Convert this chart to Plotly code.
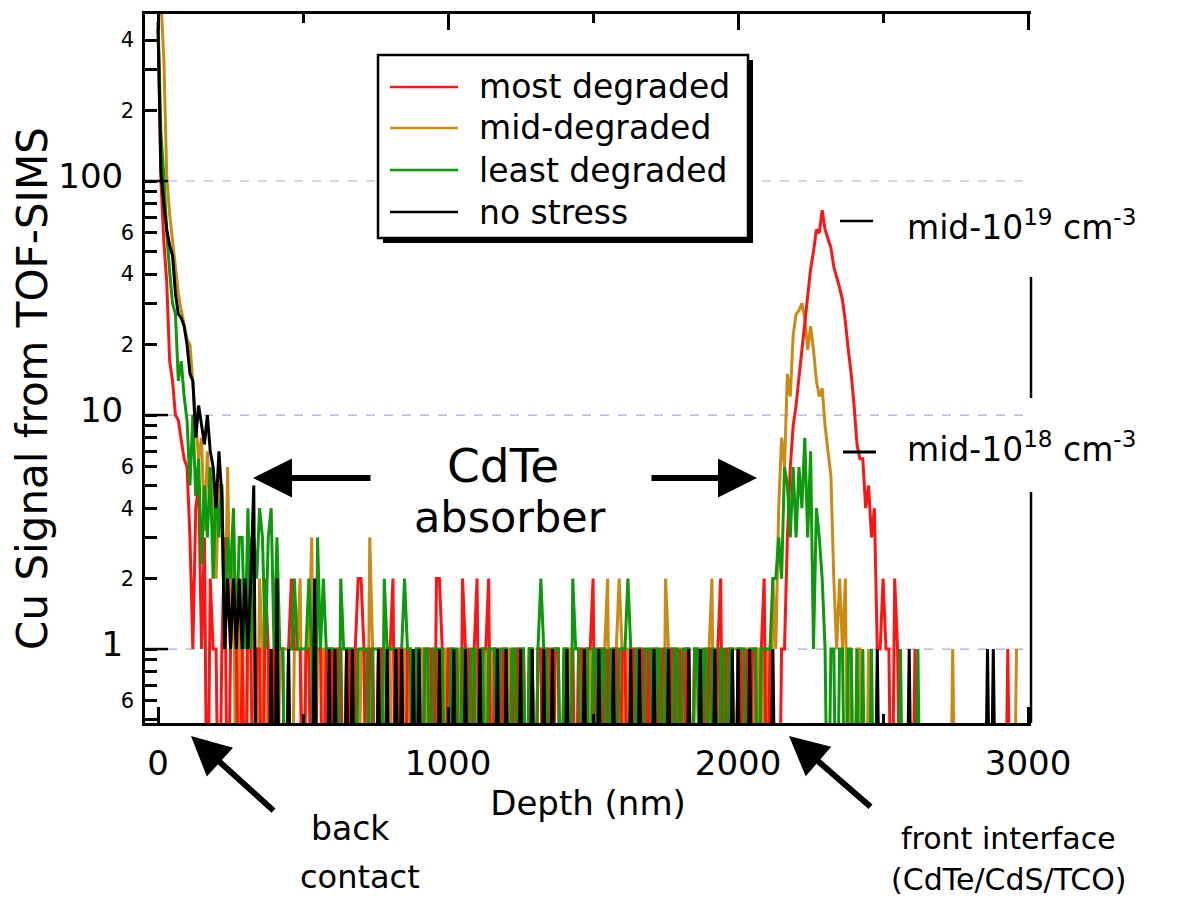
import plotly.graph_objects as go

# ---------------- data (Cu counts, one value every 10 nm of depth) ----------------
STEP_NM = 10

most_degraded = [
    480, 100, 55, 37, 17, 14, 10, 9.5, 7.8, 6.5,
    6, 3, 1, 4, 5, 1, 3, 0, 2, 1,
    1, 0, 1, 3, 0, 1, 2, 1, 0, 1,
    0, 2, 1, 0, 1, 1, 0, 2, 1, 0,
    1, 1, 1, 1, 0, 1, 2, 1, 1, 1,
    0, 1, 1, 0, 1, 1, 1, 0, 1, 1,
    1, 0, 1, 1, 0, 1, 1, 0, 1, 2,
    2, 1, 0, 1, 1, 0, 1, 1, 0, 1,
    1, 2, 0, 1, 1, 0, 1, 1, 0, 1,
    1, 0, 1, 1, 1, 0, 2, 2, 1, 0,
    1, 1, 0, 1, 0, 2, 1, 1, 0, 1,
    2, 0, 1, 1, 2, 0, 1, 1, 0, 1,
    1, 0, 1, 0, 1, 1, 1, 0, 1, 1,
    0, 1, 1, 0, 1, 1, 0, 1, 1, 0,
    1, 1, 0, 1, 0, 1, 1, 0, 1, 1,
    2, 0, 1, 1, 0, 1, 0, 1, 1, 0,
    1, 1, 0, 1, 1, 0, 1, 1, 0, 1,
    0, 1, 1, 0, 1, 1, 0, 1, 1, 0,
    1, 0, 1, 1, 0, 1, 1, 0, 1, 0,
    1, 1, 0, 1, 2, 0, 1, 1, 1, 0,
    1, 1, 0, 1, 0, 1, 1, 0, 1, 2,
    0, 1, 0, 0, 0, 1, 1, 3, 6, 9,
    11, 14.5, 19, 26, 33, 42, 50, 62, 60, 75,
    62, 57, 52, 43, 39, 35, 31, 25, 19, 15,
    11, 7.5, 6.5, 6.5, 4, 5, 3, 4, 1, 1,
    2, 1, 1, 0, 2, 1, 0, 0, 0, 0,
    0, 1, 0, 0, 0, 0, 0, 0, 0, 0,
    0, 0, 0, 0, 0, 0, 0, 0, 0, 0,
    0, 0, 0, 0, 0, 0, 0, 0, 0, 0,
    0, 0, 0, 1, 0, 0, 0,
]

mid_degraded = [
    700, 600, 330, 105, 72, 55, 42, 33, 28, 24,
    21, 20, 14, 10, 6.5, 8, 3.2, 7, 4, 5.5,
    2, 5, 5, 1, 6, 1, 3, 0, 1, 2,
    0, 1, 3, 1, 0, 2, 1, 0, 1, 0,
    1, 0, 1, 1, 1, 1, 0, 1, 1, 2,
    0, 1, 1, 3, 0, 1, 1, 1, 0, 1,
    1, 0, 1, 1, 0, 1, 0, 1, 1, 0,
    1, 1, 0, 3, 1, 0, 1, 1, 0, 1,
    1, 0, 1, 1, 0, 1, 1, 0, 1, 0,
    1, 1, 0, 1, 0, 1, 1, 0, 1, 1,
    0, 1, 1, 0, 1, 1, 0, 1, 0, 1,
    1, 0, 1, 1, 0, 1, 1, 0, 1, 0,
    1, 1, 0, 1, 1, 0, 1, 0, 1, 1,
    0, 1, 1, 0, 1, 0, 1, 1, 1, 0,
    1, 0, 1, 1, 0, 1, 1, 0, 1, 1,
    0, 1, 1, 0, 1, 2, 0, 1, 1, 2,
    1, 0, 1, 1, 0, 1, 1, 0, 1, 0,
    1, 1, 0, 1, 0, 2, 1, 1, 0, 1,
    1, 0, 1, 1, 0, 1, 1, 1, 0, 1,
    1, 2, 0, 1, 1, 0, 1, 0, 1, 1,
    1, 0, 1, 1, 1, 0, 1, 1, 0, 1,
    1, 0, 2, 1, 4, 8, 6, 15, 12, 22,
    27, 28, 30, 26, 19, 24, 19, 14, 12, 13,
    9, 7, 5.5, 2, 1, 2, 1, 2, 0, 1,
    0, 1, 1, 0, 0, 1, 0, 0, 0, 0,
    0, 0, 0, 0, 0, 0, 0, 0, 0, 0,
    0, 0, 0, 0, 0, 0, 0, 0, 0, 0,
    0, 0, 0, 0, 1, 0, 0, 0, 0, 0,
    0, 0, 0, 0, 0, 0, 0, 0, 0, 0,
    0, 0, 0, 0, 0, 0, 1,
]

least_degraded = [
    480, 160, 105, 60, 41, 30, 27, 14, 17, 12,
    9.5, 5, 10, 4.5, 6.5, 2.3, 5, 3, 6, 2,
    5, 3, 5, 1, 3, 2, 4, 1, 3, 3,
    1, 4, 1, 3, 2, 4, 3, 1, 3, 4,
    1, 3, 1, 1, 0, 1, 1, 2, 1, 1,
    1, 1, 2, 1, 0, 3, 1, 2, 1, 1,
    1, 1, 0, 2, 1, 1, 1, 1, 0, 1,
    1, 1, 1, 0, 1, 1, 1, 0, 2, 1,
    1, 1, 1, 0, 1, 2, 1, 1, 0, 1,
    1, 0, 1, 1, 0, 1, 1, 1, 1, 0,
    0, 1, 1, 1, 0, 1, 1, 0, 1, 1,
    0, 1, 1, 0, 1, 1, 1, 0, 1, 1,
    1, 0, 1, 1, 0, 1, 1, 0, 1, 1,
    0, 1, 2, 1, 1, 0, 1, 1, 1, 0,
    1, 1, 0, 2, 1, 1, 0, 1, 1, 0,
    1, 1, 0, 1, 1, 0, 1, 1, 0, 1,
    1, 1, 2, 1, 0, 1, 1, 0, 1, 1,
    1, 0, 1, 1, 0, 1, 1, 0, 1, 1,
    0, 1, 1, 1, 0, 1, 1, 0, 1, 1,
    0, 1, 1, 0, 1, 1, 0, 1, 1, 0,
    1, 1, 1, 0, 1, 1, 1, 0, 1, 1,
    1, 1, 2, 2, 3, 2, 6, 5, 3, 6,
    3, 6, 4, 8, 3, 7, 1, 4, 3, 2,
    1, 0, 1, 1, 0, 1, 1, 0, 1, 1,
    0, 1, 0, 1, 0, 0, 1, 0, 0, 0,
    0, 0, 0, 0, 0, 0, 1, 0, 0, 0,
    0, 0, 1, 0, 0, 0, 0, 0, 0, 0,
    0, 0, 0, 0, 0, 0, 0, 0, 0, 0,
    0, 0, 0, 0, 0, 0, 0, 0, 0, 0,
    0, 0, 0, 0, 0, 0, 0,
]

no_stress = [
    450, 110, 80, 62, 53, 48, 33, 27, 26, 24,
    20, 15, 14, 8, 11, 9, 7.5, 10, 7, 6,
    4, 7, 4.5, 1, 2, 1, 2, 1, 2, 1,
    2, 1, 2, 5, 0, 0, 0, 0, 0, 1,
    0, 2, 0, 0, 0, 1, 0, 0, 0, 0,
    0, 0, 0, 0, 2, 0, 0, 0, 0, 1,
    0, 1, 0, 0, 0, 1, 0, 1, 0, 0,
    0, 0, 0, 0, 0, 0, 1, 0, 0, 1,
    0, 0, 1, 0, 1, 0, 0, 0, 1, 0,
    1, 0, 0, 0, 0, 0, 0, 1, 0, 0,
    0, 0, 1, 0, 0, 0, 1, 0, 0, 0,
    0, 1, 0, 0, 0, 0, 0, 1, 0, 0,
    1, 0, 0, 0, 0, 1, 0, 0, 0, 1,
    0, 0, 0, 1, 0, 0, 1, 0, 0, 0,
    0, 1, 0, 0, 0, 0, 0, 1, 0, 0,
    0, 0, 1, 0, 0, 0, 0, 1, 0, 0,
    0, 0, 0, 1, 0, 0, 1, 0, 0, 0,
    0, 1, 0, 0, 0, 0, 1, 0, 0, 0,
    0, 0, 0, 1, 0, 0, 0, 1, 0, 0,
    0, 0, 1, 0, 0, 0, 0, 0, 1, 0,
    1, 0, 0, 0, 1, 0, 0, 0, 0, 0,
    0, 0, 1, 0, 0, 0, 0, 0, 0, 0,
    0, 0, 0, 0, 0, 0, 0, 0, 0, 0,
    0, 0, 0, 0, 0, 0, 0, 0, 0, 0,
    0, 0, 0, 0, 0, 0, 0, 0, 1, 0,
    0, 0, 0, 0, 0, 0, 0, 0, 0, 1,
    0, 0, 0, 0, 0, 0, 0, 0, 0, 0,
    0, 0, 0, 0, 0, 0, 0, 0, 0, 0,
    0, 0, 0, 0, 0, 0, 1, 0, 1, 0,
    0, 0, 0, 0, 0, 0, 0,
]

series_names = ["most degraded", "mid-degraded", "least degraded", "no stress"]
series_colors = ["#ff1414", "#cc8a12", "#0c990c", "#000000"]

y_tick_vals = [0.6, 1, 2, 4, 6, 10, 20, 40, 60, 100, 200, 400]
y_tick_text = ["6", "1", "2", "4", "6", "10", "2", "4", "6", "100", "2", "4"]
y_minor_vals = [0.5, 0.7, 0.8, 0.9, 3, 5, 7, 8, 9, 30, 50, 70, 80, 90, 300]
y_right_ticks = [0.5, 0.6, 0.7, 0.8, 0.9, 1, 2, 3, 4, 20, 30]
x_tick_vals = [0, 1000, 2000, 3000]
x_minor_vals = [500, 1500, 2500]

FLOOR = 0.1   # zero counts are drawn below the bottom of the log axis

# ---------------- geometry (page pixels; the page body adds an 8 px margin) ----------------
PAGE_W, PAGE_H = 1198, 906
OFF = 8
W, H = PAGE_W - 2 * OFF, PAGE_H - 2 * OFF
L, R, T, B = 145, 1031, 14, 723
FONT = "DejaVu Sans"


def fx(x):
    return (x - L) / (R - L)


def fy(y):
    return (B - y) / (B - T)


fig = go.Figure()

depth = [i * STEP_NM for i in range(len(most_degraded))]
data_by_name = {
    "most degraded": most_degraded,
    "mid-degraded": mid_degraded,
    "least degraded": least_degraded,
    "no stress": no_stress,
}
draw_order = ["mid-degraded", "most degraded", "least degraded", "no stress"]
for name in draw_order:
    vals = data_by_name[name]
    col = series_colors[series_names.index(name)]
    fig.add_trace(go.Scatter(
        x=depth, y=[v if v > 0 else FLOOR for v in vals],
        mode="lines", name=name, line=dict(color=col, width=3),
        showlegend=False, hoverinfo="skip"))

tick_text = []
for v, t in zip(y_tick_vals, y_tick_text):
    if v in (1, 10, 100):
        tick_text.append('<span style="font-size:34px">' + t + '&nbsp;</span>')
    else:
        tick_text.append(t)

fig.update_layout(
    width=W, height=H,
    margin=dict(l=L - OFF, r=(OFF + W) - R, t=T - OFF, b=(OFF + H) - B, pad=0,
                autoexpand=False),
    paper_bgcolor="white", plot_bgcolor="white",
    font=dict(family=FONT, color="black"),
    showlegend=False,
    xaxis=dict(
        range=[-45, 3010], showline=True, linecolor="black", linewidth=2.5,
        mirror="ticks", ticks="inside", ticklen=16, tickwidth=2.5, tickcolor="black",
        tickvals=x_tick_vals, ticktext=[str(v) for v in x_tick_vals],
        tickfont=dict(size=34, family=FONT), ticklabelstandoff=8, automargin=False,
        minor=dict(tickvals=x_minor_vals, ticks="inside", ticklen=9, tickwidth=2.5,
                   tickcolor="black", showgrid=False),
        showgrid=False, zeroline=False,
        title=dict(text="Depth (nm)", font=dict(size=34, family=FONT), standoff=6),
    ),
    yaxis=dict(
        type="log", range=[-0.316, 2.7137], showline=True, linecolor="black",
        linewidth=2.5, ticks="inside", ticklen=12, tickwidth=2.5, tickcolor="black",
        tickvals=y_tick_vals, ticktext=tick_text, tickfont=dict(size=21, family=FONT),
        ticklabelstandoff=4, automargin=False,
        minor=dict(tickvals=y_minor_vals, ticks="inside", ticklen=12, tickwidth=2.5,
                   tickcolor="black", showgrid=False),
        showgrid=False, zeroline=False,
        title=dict(text="Cu Signal from TOF-SIMS&nbsp;&nbsp;&nbsp;",
                   font=dict(size=42, family=FONT), standoff=5),
    ),
    yaxis2=dict(
        type="log", range=[-0.316, 2.7137], overlaying="y", side="right", anchor="x",
        showline=False, ticks="inside", ticklen=11, tickwidth=2.5, tickcolor="black",
        tickvals=y_right_ticks, showticklabels=False, showgrid=False, zeroline=False,
        automargin=False,
    ),
)

shapes = []
# dashed reference lines at decades and long decade ticks
for v in (1, 10, 100):
    shapes.append(dict(type="line", xref="paper", yref="y", x0=fx(168), x1=1, y0=v, y1=v,
                       line=dict(color="#a9a9dc", width=1.2, dash="dash"), layer="below"))
    shapes.append(dict(type="line", xref="paper", yref="y", x0=0, x1=fx(168), y0=v, y1=v,
                       line=dict(color="black", width=2.5)))
# right frame (interrupted by the concentration labels)
for (ya, yb) in [(277, 398), (492, B)]:
    shapes.append(dict(type="line", xref="paper", yref="paper", x0=1, x1=1,
                       y0=fy(ya), y1=fy(yb), line=dict(color="black", width=2.5)))
# concentration markers
shapes.append(dict(type="line", xref="paper", yref="paper", x0=fx(840), x1=fx(873),
                   y0=fy(221), y1=fy(221), line=dict(color="black", width=2.5)))
shapes.append(dict(type="line", xref="paper", yref="paper", x0=fx(843), x1=fx(876),
                   y0=fy(452), y1=fy(452), line=dict(color="black", width=3)))
# legend box with drop shadow
shapes.append(dict(type="rect", xref="paper", yref="paper", x0=fx(383), x1=fx(753),
                   y0=fy(243), y1=fy(60), fillcolor="black", line=dict(width=0)))
shapes.append(dict(type="rect", xref="paper", yref="paper", x0=fx(378), x1=fx(748),
                   y0=fy(238), y1=fy(55), fillcolor="white",
                   line=dict(color="black", width=2.5)))
legend_rows = [87, 128, 170, 212]
for name, col, ry in zip(series_names, series_colors, legend_rows):
    shapes.append(dict(type="line", xref="paper", yref="paper", x0=fx(390), x1=fx(458),
                       y0=fy(ry), y1=fy(ry), line=dict(color=col, width=2.5)))
fig.update_layout(shapes=shapes)


def label(text, x, y, size, xanchor="center", yanchor="middle"):
    return dict(text=text, x=fx(x), y=fy(y), xref="paper", yref="paper",
                xanchor=xanchor, yanchor=yanchor, showarrow=False,
                font=dict(size=size, family=FONT, color="black"))


def arrow(tipx, tipy, tailx, taily):
    return dict(text="", x=fx(tipx), y=fy(tipy), xref="paper", yref="paper",
                ax=tailx - tipx, ay=taily - tipy, showarrow=True, arrowhead=2,
                arrowsize=1.3, arrowwidth=6, arrowcolor="black", standoff=0)


annotations = []
for name, ry in zip(series_names, legend_rows):
    annotations.append(label(name, 477, ry, 33, xanchor="left"))
annotations += [
    label("CdTe", 503, 465, 47),
    label("absorber", 510, 517, 43),
    label("back", 350, 828, 33),
    label("contact", 360, 877, 32),
    label("front interface", 1008, 838, 30),
    label("(CdTe/CdS/TCO)", 1008, 880, 30),
    label("mid-10<sup>19</sup> cm<sup>-3</sup>", 905, 225, 33, xanchor="left"),
    label("mid-10<sup>18</sup> cm<sup>-3</sup>", 905, 448, 33, xanchor="left"),
    arrow(253, 478, 372, 478),
    arrow(757, 478, 650, 478),
    arrow(191, 736, 275, 812),
    arrow(789, 736, 872, 808),
]
fig.update_layout(annotations=annotations)

fig.write_html("out.html")
